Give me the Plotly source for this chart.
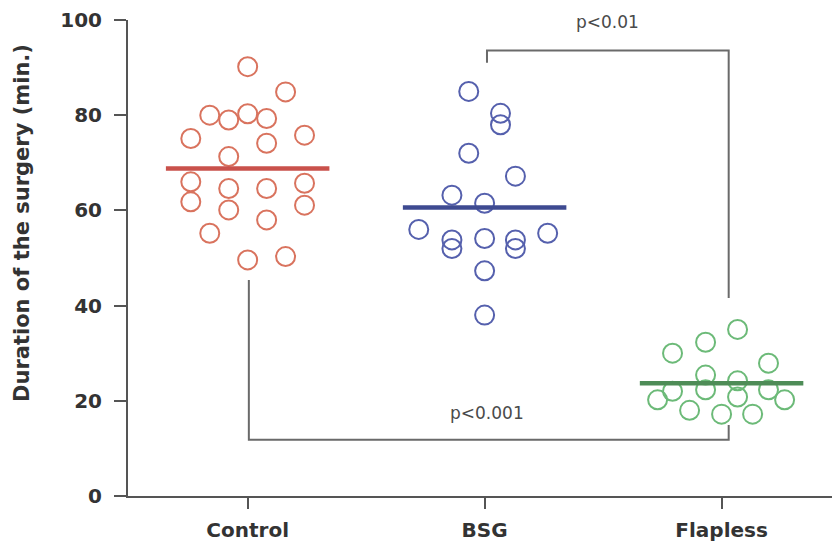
import plotly.graph_objects as go

# ---- data ----
categories = ["Control", "BSG", "Flapless"]

control_vals = [90.2, 84.9, 80.0, 79.0, 80.3, 79.3, 75.1, 75.8, 74.1, 71.3, 66.0,
                65.7, 61.8, 64.6, 64.6, 61.1, 60.1, 58.0, 55.2, 49.6, 50.3]
control_jit = [0, 0.16, -0.16, -0.08, 0, 0.08, -0.24, 0.24, 0.08, -0.08, -0.24,
               0.24, -0.24, -0.08, 0.08, 0.24, -0.08, 0.08, -0.16, 0, 0.16]

bsg_vals = [85.0, 80.4, 78.0, 72.0, 67.2, 63.2, 61.5, 56.0, 53.8, 52.0, 54.1,
            53.8, 52.0, 55.2, 47.3, 38.0]
bsg_jit = [-0.067, 0.067, 0.067, -0.067, 0.13, -0.138, 0, -0.278, -0.138, -0.138, 0,
           0.13, 0.13, 0.266, 0, 0]

flap_vals = [35.0, 32.3, 30.0, 27.9, 25.4, 24.2, 22.3, 22.0, 20.8, 22.3, 20.2,
             20.2, 18.0, 17.2, 17.2]
flap_jit = [0.0675, -0.0675, -0.207, 0.198, -0.0675, 0.0675, -0.0675, -0.207, 0.0675,
            0.198, -0.27, 0.266, -0.135, 0, 0.131]

means = [68.8, 60.6, 23.7]
mean_half_width = 0.345

# significance brackets: (left x, right x, left end y, right end y, bar y, label, label x, label y)
brackets = [
    (1.01, 2.03, 91.0, 41.6, 93.6, "p<0.01", 1.517, 99.6),
    (0.005, 2.03, 45.4, 14.9, 11.8, "p<0.001", 1.01, 17.4),
]

circle_colors = ["#d9735e", "#5560ad", "#6cba78"]
line_colors = ["#c9514b", "#3e4a91", "#4e8c57"]

groups = [(control_vals, control_jit), (bsg_vals, bsg_jit), (flap_vals, flap_jit)]

fig = go.Figure()

for i, (vals, jit) in enumerate(groups):
    fig.add_trace(go.Scatter(
        x=[i + j for j in jit], y=vals, mode="markers",
        marker=dict(symbol="circle-open", size=19, color=circle_colors[i],
                    line=dict(width=2, color=circle_colors[i])),
        showlegend=False, hoverinfo="y"))

for i, m in enumerate(means):
    fig.add_trace(go.Scatter(
        x=[i - mean_half_width, i + mean_half_width], y=[m, m], mode="lines",
        line=dict(color=line_colors[i], width=4.5), showlegend=False, hoverinfo="y"))

for (xl, xr, yl, yr, yb, lab, lx, ly) in brackets:
    fig.add_trace(go.Scatter(
        x=[xl, xl, xr, xr], y=[yl, yb, yb, yr], mode="lines",
        line=dict(color="#6a6a6a", width=2), showlegend=False, hoverinfo="skip"))
    fig.add_annotation(x=lx, y=ly, text=lab, showarrow=False, xref="x", yref="y",
                       font=dict(family="DejaVu Sans", size=17, color="#4a4a4a"))

fig.add_annotation(x=-0.1506, y=0.5735, xref="paper", yref="paper",
                   text="Duration of the surgery (min.)", textangle=-90, showarrow=False,
                   font=dict(family="DejaVu Sans", size=21, color="#333333", weight="bold"),
                   xanchor="center", yanchor="middle")

fig.update_layout(
    width=832, height=544,
    margin=dict(l=128, r=0, t=20, b=48),
    paper_bgcolor="white", plot_bgcolor="white",
    font=dict(family="DejaVu Sans", color="#333333"),
    xaxis=dict(range=[-0.505, 2.466], tickvals=[0, 1, 2], ticktext=categories,
               showgrid=False, zeroline=False, showline=True, linecolor="#555555",
               linewidth=2, ticks="outside", ticklen=11, tickwidth=2, tickcolor="#555555",
               automargin=False, ticklabelstandoff=4,
               tickfont=dict(family="DejaVu Sans", size=20, color="#333333", weight="bold")),
    yaxis=dict(range=[0, 100], tickvals=[0, 20, 40, 60, 80, 100],
               showgrid=False, zeroline=False, showline=True, linecolor="#555555",
               linewidth=2, ticks="outside", ticklen=12, tickwidth=2, tickcolor="#555555",
               automargin=False, ticklabelstandoff=8,
               tickfont=dict(family="DejaVu Sans", size=20, color="#333333", weight="bold")),
)

fig.write_html("out.html", config={"displayModeBar": False},
               post_script="document.body.style.margin='0px';document.body.style.padding='0px';")
